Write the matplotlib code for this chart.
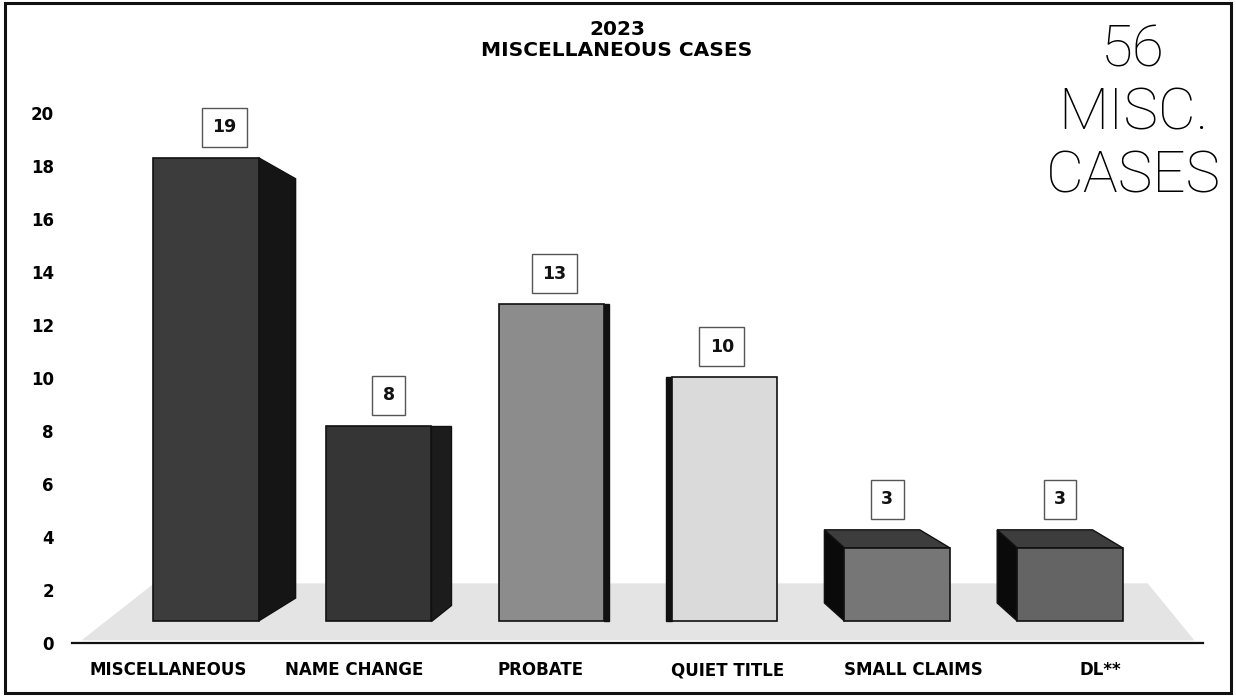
import numpy as np
import matplotlib
matplotlib.use("Agg")
import matplotlib.pyplot as plt
from matplotlib.patches import Polygon, Rectangle

# ============================================================
# Data
# ============================================================

categories = ["MISCELLANEOUS", "NAME CHANGE", "PROBATE",
              "QUIET TITLE", "SMALL CLAIMS", "DL**"]
case_counts = [19, 8, 13, 10, 3, 3]
tick_values = list(range(0, 21, 2))

title_text = "2023\nMISCELLANEOUS CASES"
total_text = "56\nMISC.\nCASES"

# ============================================================
# Styling
# ============================================================

front_colors = ["#3c3c3c", "#353535", "#8c8c8c", "#dadada", "#767676", "#646464"]
side_colors = ["#151515", "#1c1c1c", "#111111", "#111111", "#0a0a0a", "#0a0a0a"]
top_colors = [None, None, None, None, "#3d3d3d", "#3d3d3d"]
# fake 3d side: (side dx, top shift, bottom rise) in data units
side_dx = [0.214, 0.116, 0.03, -0.03, -0.116, -0.116]
side_top = [-0.86, 0.0, 0.0, 0.0, 0.74, 0.74]
side_bot = [0.94, 0.66, 0.0, 0.0, 0.74, 0.74]

BAR_WIDTH = 0.61
BASE_T = 0.83      # axis value where bars stand on the floor
SCALE_T = 0.92     # axis units per case

W, H = 1236, 696
fig = plt.figure(figsize=(W / 100, H / 100), dpi=100)
fig.patch.set_facecolor("white")

ax = fig.add_axes([72 / W, 53 / H, 1131 / W, 556.5 / H])

x = np.arange(len(categories))

# floor
floor_y0 = (0.1 - BASE_T) / SCALE_T
floor_y1 = (2.25 - BASE_T) / SCALE_T
ax.add_patch(Polygon([(-0.72, floor_y0), (5.72, floor_y0),
                      (5.45, floor_y1), (-0.3, floor_y1)],
                     closed=True, facecolor="#e4e4e4", edgecolor="none", zorder=0))

bars = ax.bar(x, case_counts, width=BAR_WIDTH, color=front_colors,
              edgecolor="#111111", linewidth=1.2, zorder=3)

for i, (xi, v) in enumerate(zip(x, case_counts)):
    dx = side_dx[i]
    if dx > 0:
        edge = xi + BAR_WIDTH / 2
    else:
        edge = xi - BAR_WIDTH / 2
    top_y = v + (side_top[i] if side_top[i] > 0 else 0)
    side = Polygon([(edge, 0), (edge, v),
                    (edge + dx, v + side_top[i]),
                    (edge + dx, side_bot[i])],
                   closed=True, facecolor=side_colors[i],
                   edgecolor="#111111", linewidth=1, zorder=2)
    ax.add_patch(side)
    if top_colors[i] is not None:
        top = Polygon([(xi - BAR_WIDTH / 2, v), (xi + BAR_WIDTH / 2, v),
                       (xi + BAR_WIDTH / 2 + 1.5 * dx, v + side_top[i]),
                       (xi - BAR_WIDTH / 2 + dx, v + side_top[i])],
                      closed=True, facecolor=top_colors[i],
                      edgecolor="#111111", linewidth=1, zorder=2)
        ax.add_patch(top)
    ax.annotate(str(v), (xi + dx / 2, top_y), xytext=(0, 22),
                textcoords="offset points", ha="center", va="center",
                fontsize=12.5, fontweight="bold", color="#111111", zorder=5,
                bbox=dict(boxstyle="square,pad=0.6", facecolor="white",
                          edgecolor="#555555", linewidth=1.0))

ax.set_xlim(-0.775, 5.77)
ax.set_ylim((0 - BASE_T) / SCALE_T, (21 - BASE_T) / SCALE_T)

ax.set_yticks([(t - BASE_T) / SCALE_T for t in tick_values])
ax.set_yticklabels([str(t) for t in tick_values], fontsize=12, fontweight="bold")
ax.tick_params(axis="y", length=0, pad=13)

label_x = [-0.22 + 1.079 * i for i in range(len(categories))]
ax.set_xticks(label_x)
ax.set_xticklabels(categories, fontsize=12, fontweight="bold")
ax.tick_params(axis="x", length=0, pad=13)

for s in ["top", "right", "left"]:
    ax.spines[s].set_visible(False)
ax.spines["bottom"].set_linewidth(1.6)
ax.spines["bottom"].set_color("#111111")
ax.set_facecolor("none")

fig.text(617 / W, 1 - 40 / H, title_text, ha="center", va="center",
         fontsize=14.5, fontweight="bold", linespacing=1.15)

fig.text(1133 / W, 1 - 114 / H, total_text, ha="center", va="center",
         fontsize=42, fontfamily="Roboto", fontweight="light", color="black",
         linespacing=1.18)

# outer frame
fig.add_artist(Rectangle((0.004, 0.004), 0.992, 0.991, transform=fig.transFigure,
                         fill=False, edgecolor="#111111", linewidth=2.2))

fig.savefig("out.png", dpi=100)
